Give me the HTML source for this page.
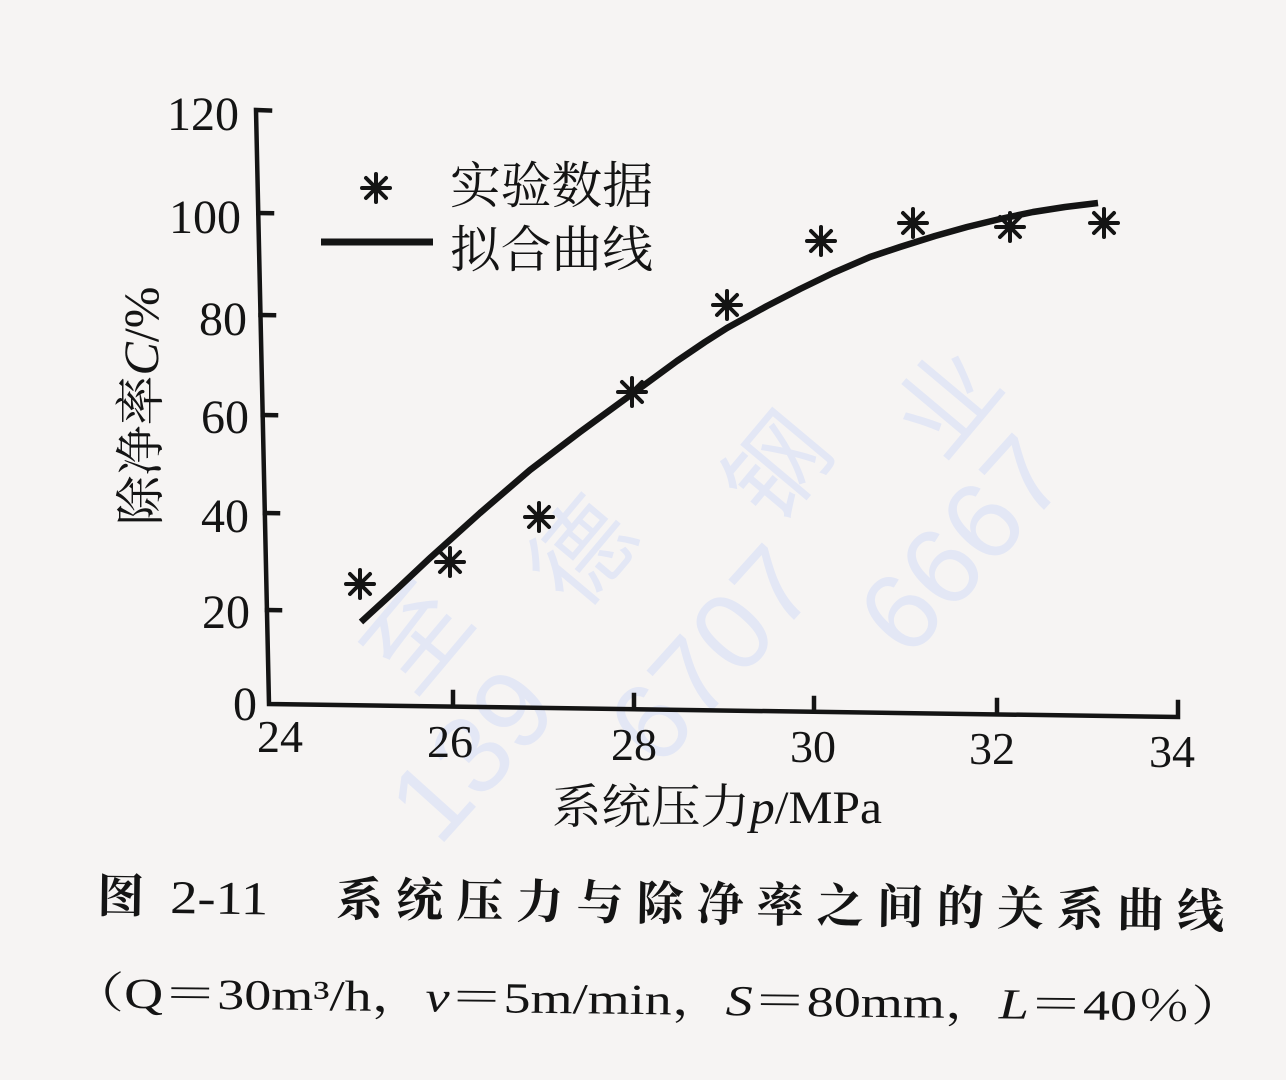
<!DOCTYPE html>
<html>
<head>
<meta charset="utf-8">
<style>
html,body{margin:0;padding:0;background:#f6f4f3;}
svg{display:block;}
</style>
</head>
<body>
<svg width="1286" height="1080" viewBox="0 0 1286 1080" xmlns="http://www.w3.org/2000/svg">
<rect x="0" y="0" width="1286" height="1080" fill="#f6f4f3"/>

<!-- watermark -->
<g fill="#e3e7f5" font-family="'Liberation Sans','Noto Sans CJK SC',sans-serif">
  <text x="0" y="0" font-size="100" text-anchor="middle" transform="translate(445,660) rotate(-50)">至</text>
  <text x="0" y="0" font-size="100" text-anchor="middle" transform="translate(610,575) rotate(-50)">德</text>
  <text x="0" y="0" font-size="100" text-anchor="middle" transform="translate(805,490) rotate(-50)">钢</text>
  <text x="0" y="0" font-size="100" text-anchor="middle" transform="translate(975,425) rotate(-50)">业</text>
  <text x="0" y="0" font-size="110" text-anchor="middle" transform="translate(500,780) rotate(-48)">139</text>
  <text x="0" y="0" font-size="110" text-anchor="middle" transform="translate(740,680) rotate(-48)">6707</text>
  <text x="0" y="0" font-size="110" text-anchor="middle" transform="translate(990,570) rotate(-48)">6667</text>
</g>

<!-- axes -->
<g stroke="#141414" fill="none" stroke-width="4.5" stroke-linejoin="miter" stroke-linecap="square">
  <path d="M270,110.5 L256,110 L269,704 L1178,717 L1178,702"/>
  <line x1="258.3" y1="213" x2="272" y2="213.2"/>
  <line x1="260.5" y1="315" x2="274" y2="315.2"/>
  <line x1="262.7" y1="415" x2="276" y2="415.2"/>
  <line x1="264.8" y1="513" x2="278" y2="513.2"/>
  <line x1="267" y1="610" x2="280" y2="610.2"/>
  <line x1="453" y1="705.8" x2="453" y2="692"/>
  <line x1="634" y1="708.6" x2="634" y2="695"/>
  <line x1="814" y1="711.4" x2="814" y2="698"/>
  <line x1="997" y1="714.2" x2="997" y2="700"/>
</g>

<!-- y tick labels -->
<g font-family="'Liberation Serif',serif" font-size="48" fill="#141414" text-anchor="end">
  <text x="239" y="130">120</text>
  <text x="241" y="233">100</text>
  <text x="247" y="335">80</text>
  <text x="249" y="433">60</text>
  <text x="249" y="532">40</text>
  <text x="250" y="628">20</text>
  <text x="257" y="720">0</text>
</g>

<!-- x tick labels -->
<g font-family="'Liberation Serif',serif" font-size="46" fill="#141414" text-anchor="middle">
  <text x="280" y="752">24</text>
  <text x="450" y="757">26</text>
  <text x="634" y="760">28</text>
  <text x="813" y="762">30</text>
  <text x="992" y="764">32</text>
  <text x="1172" y="767">34</text>
</g>

<!-- axis labels -->
<text x="0" y="0" transform="translate(158,406) rotate(-90)" text-anchor="middle" font-size="50" fill="#141414" font-family="'Liberation Serif','Noto Serif CJK SC',serif">除净率<tspan font-style="italic">C</tspan>/%</text>
<text x="552" y="823" font-size="47" fill="#141414" textLength="330" lengthAdjust="spacingAndGlyphs" font-family="'Liberation Serif','Noto Serif CJK SC',serif">系统压力<tspan font-style="italic">p</tspan>/MPa</text>

<!-- legend -->
<g stroke="#141414" stroke-width="4" stroke-linecap="round">
  <line x1="376" y1="174" x2="376" y2="202"/>
  <line x1="362" y1="188" x2="390" y2="188"/>
  <line x1="366" y1="178" x2="386" y2="198"/>
  <line x1="386" y1="178" x2="366" y2="198"/>
</g>
<line x1="321" y1="242" x2="433" y2="242" stroke="#141414" stroke-width="7"/>
<g font-family="'Liberation Serif','Noto Serif CJK SC',serif" font-size="50" fill="#141414">
  <text x="450" y="203" textLength="203" lengthAdjust="spacingAndGlyphs">实验数据</text>
  <text x="450" y="267" textLength="203" lengthAdjust="spacingAndGlyphs">拟合曲线</text>
</g>

<!-- fitted curve -->
<polyline fill="none" stroke="#141414" stroke-width="6.5" stroke-linejoin="round" stroke-linecap="butt"
 points="361,622 397,589 430,558 480,513 530,470 580,432 632,394 677,361 705,342 727,328 767,306 800,289 833,273 870,257 900,247 935,236 967,227 1000,219 1033,212 1065,207 1098,203"/>

<!-- data points -->
<defs>
  <g id="ast" stroke="#141414" stroke-width="4" stroke-linecap="round">
    <line x1="0" y1="-14" x2="0" y2="14"/>
    <line x1="-14" y1="0" x2="14" y2="0"/>
    <line x1="-10" y1="-10" x2="10" y2="10"/>
    <line x1="10" y1="-10" x2="-10" y2="10"/>
  </g>
</defs>
<use href="#ast" x="360" y="584"/>
<use href="#ast" x="450" y="562"/>
<use href="#ast" x="539" y="517"/>
<use href="#ast" x="632" y="392"/>
<use href="#ast" x="727" y="305"/>
<use href="#ast" x="821" y="241"/>
<use href="#ast" x="913" y="223"/>
<use href="#ast" x="1010" y="227"/>
<use href="#ast" x="1104" y="223"/>

<!-- caption -->
<g transform="rotate(0.8,98,912)" fill="#141414" font-family="'Liberation Serif','Noto Serif CJK SC',serif">
  <text x="97" y="912" font-size="47" font-weight="bold">图</text>
  <text x="170" y="912" font-size="47" textLength="98" lengthAdjust="spacingAndGlyphs">2-11</text>
  <text x="336" y="912" font-size="47" font-weight="bold" textLength="888" lengthAdjust="spacing">系统压力与除净率之间的关系曲线</text>
</g>
<g transform="rotate(0.7,64,1007)" fill="#141414" font-family="'Liberation Serif','Noto Serif CJK SC',serif">
  <text x="70" y="1007" font-size="43" textLength="1175" lengthAdjust="spacingAndGlyphs">（Q＝30m³/h，<tspan font-style="italic">v</tspan>＝5m/min，<tspan font-style="italic">S</tspan>＝80mm，<tspan font-style="italic">L</tspan>＝40％）</text>
</g>
</svg>
</body>
</html>
